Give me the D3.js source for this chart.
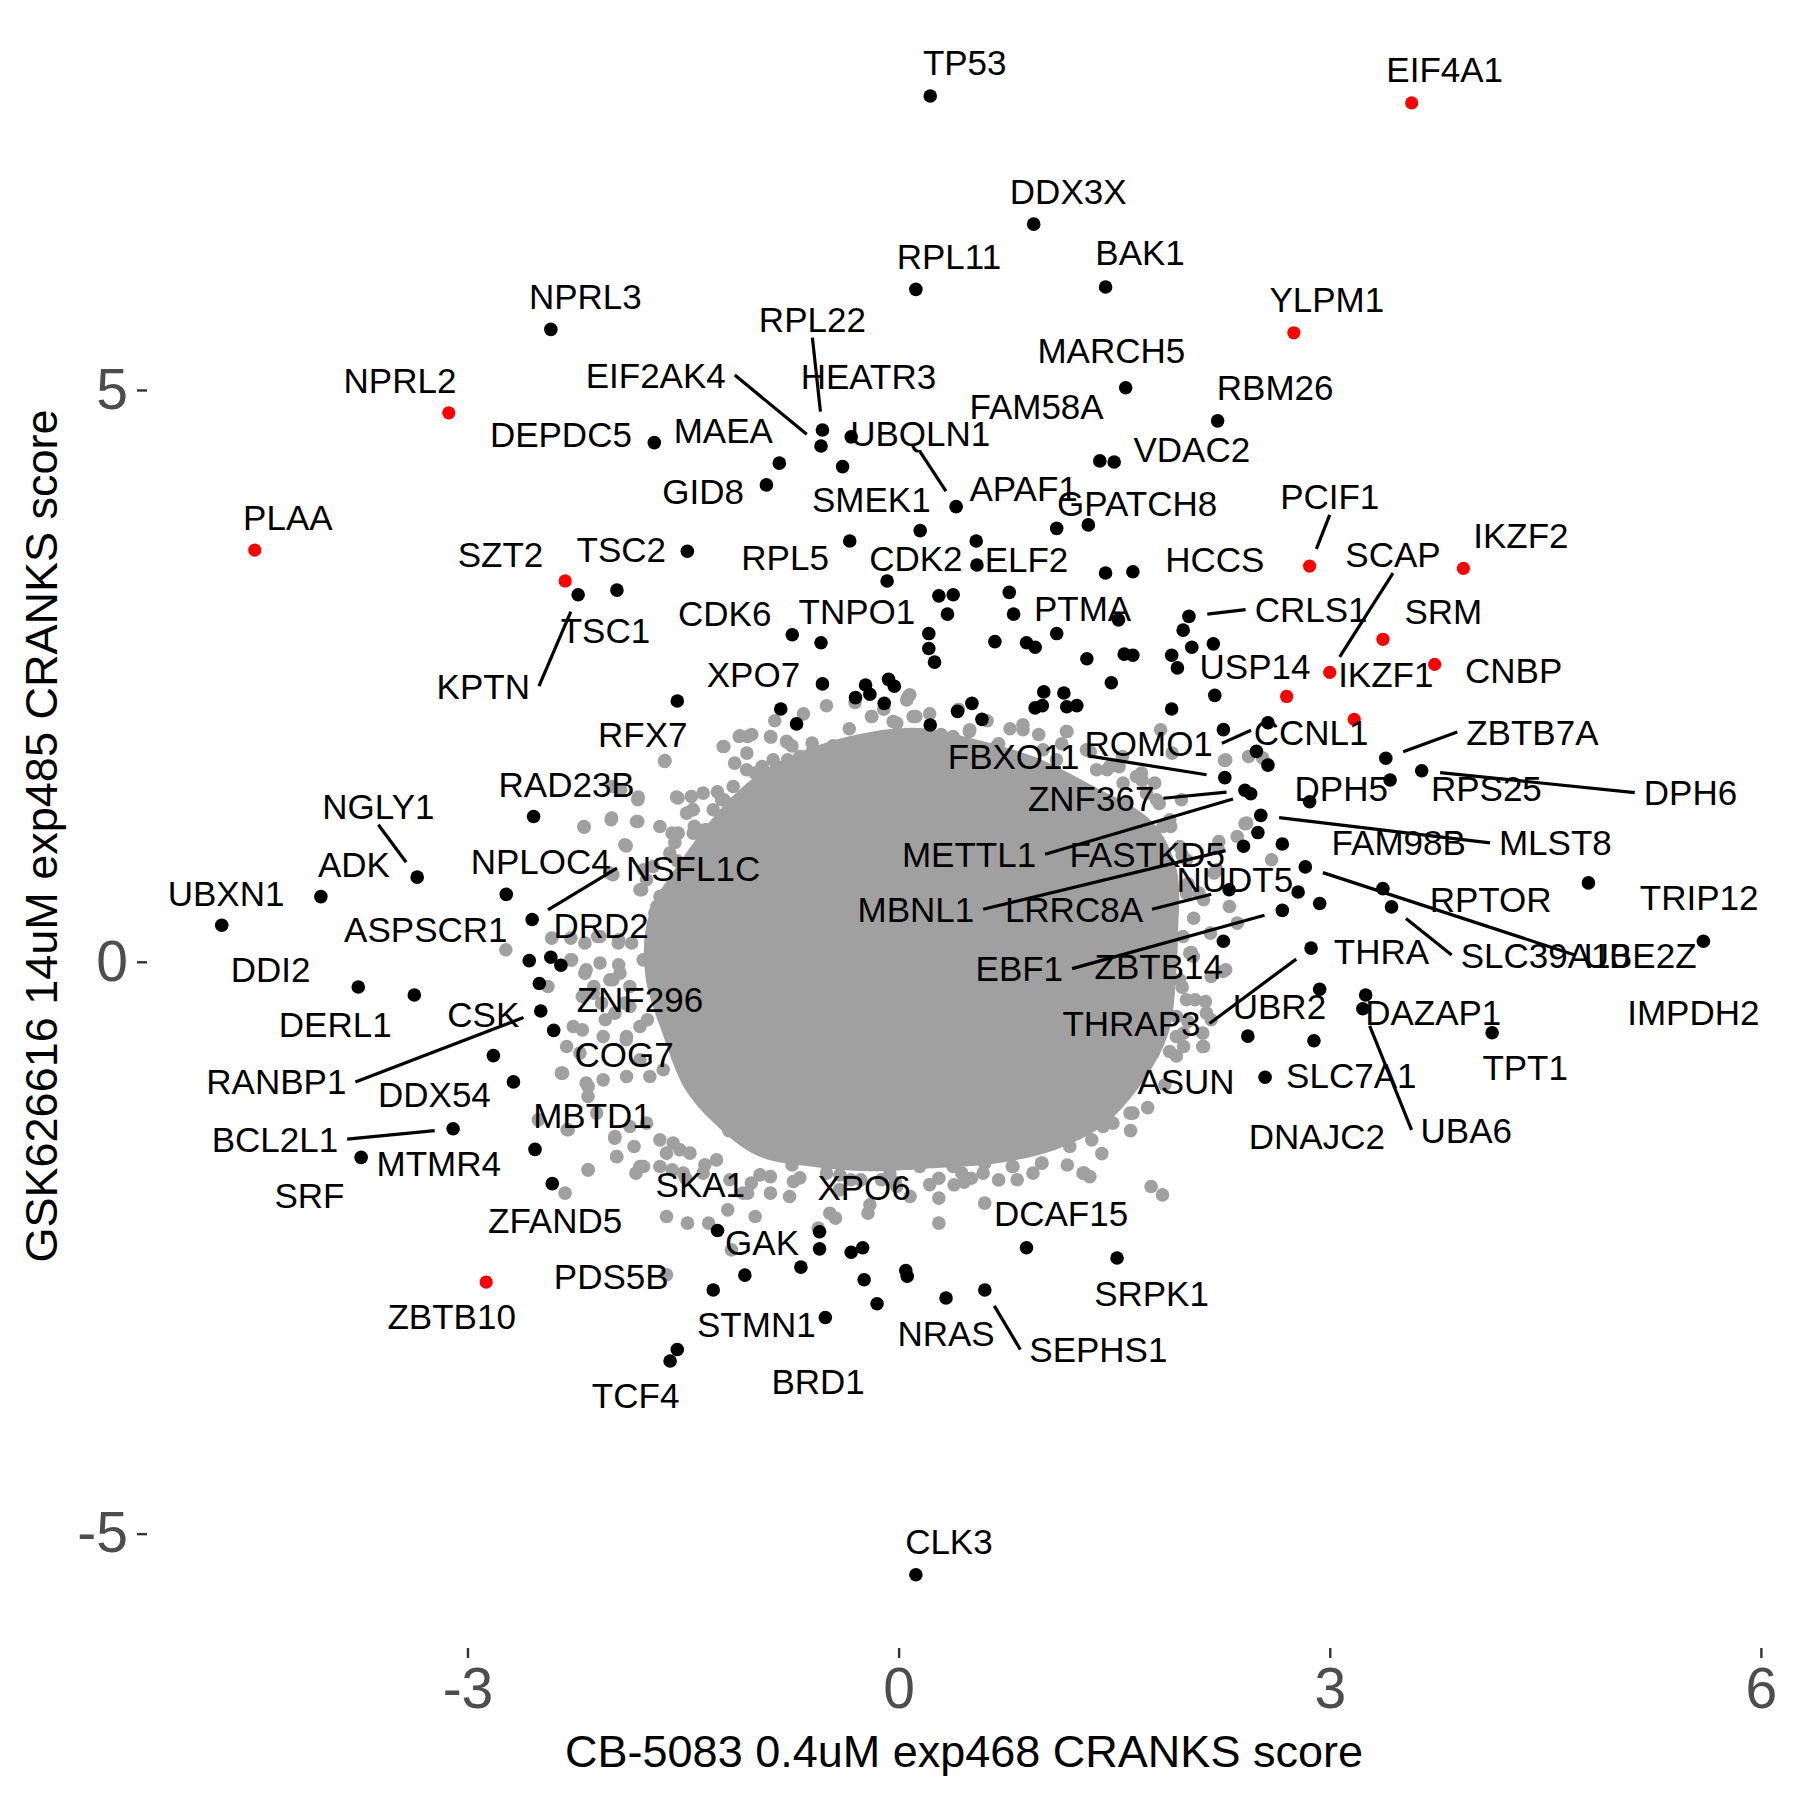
<!DOCTYPE html>
<html><head><meta charset="utf-8">
<script src="https://cdn.jsdelivr.net/npm/d3@7"></script>
<style>body{margin:0;background:#fff}svg{display:block}</style>
</head><body>
<svg id="chart" width="1800" height="1800"></svg>
<script>
// ---------- DATA ----------
const genes = [
 "TP53","EIF4A1","DDX3X","RPL11","BAK1","NPRL3","YLPM1","RPL22","MARCH5","NPRL2",
 "EIF2AK4","HEATR3","RBM26","FAM58A","DEPDC5","MAEA","UBQLN1","VDAC2","GID8","SMEK1",
 "APAF1","GPATCH8","PCIF1","IKZF2","PLAA","SZT2","TSC2","RPL5","CDK2","ELF2",
 "HCCS","TSC1","KPTN","CDK6","TNPO1","PTMA","CRLS1","SCAP","SRM","USP14",
 "IKZF1","CNBP","XPO7","RFX7","CCNL1","ROMO1","FBXO11","ZNF367","METTL1","FASTKD5",
 "MBNL1","NUDT5","LRRC8A","EBF1","ZBTB14","THRAP3","UBR2","ASUN","DNAJC2","SLC7A1",
 "ZBTB7A","DPH5","RPS25","DPH6","FAM98B","MLST8","TRIP12","RPTOR","SLC39A10","UBE2Z",
 "IMPDH2","THRA","DAZAP1","UBA6","TPT1","CLK3","SRPK1","DCAF15","SEPHS1","NRAS",
 "BRD1","XPO6","GAK","STMN1","SKA1","PDS5B","TCF4","ZBTB10","ZFAND5","SRF",
 "MTMR4","BCL2L1","DDX54","MBTD1","RANBP1","COG7","CSK","ZNF296","DRD2","DERL1",
 "DDI2","ASPSCR1","NSFL1C","NPLOC4","UBXN1","ADK","NGLY1","RAD23B"];
// CB-5083 0.4uM exp468 CRANKS score
const cb5083Score = [
 0.22,3.57,0.94,0.12,1.44,-2.42,2.75,-0.53,1.58,-3.13,
 -0.54,-0.33,2.22,1.40,-1.70,-0.83,0.40,1.50,-0.92,-0.39,
 0.54,1.32,2.86,3.93,-4.48,-2.32,-1.47,-0.34,-0.08,0.545,
 1.63,-1.96,-2.23,-0.74,-0.54,1.10,2.02,3.00,3.37,2.70,
 3.17,3.73,-0.53,-1.54,2.26,2.57,2.27,2.41,2.45,2.50,
 2.40,2.78,2.30,2.67,2.26,2.87,2.93,2.43,2.89,2.55,
 3.39,2.86,3.42,3.64,2.67,2.52,4.80,3.37,3.43,2.83,
 5.60,2.93,3.25,3.23,4.13,0.12,1.52,0.89,0.60,0.33,
 -0.51,-0.55,-0.68,-1.07,-1.26,-1.29,-1.59,-2.87,-2.41,-3.74,
 -2.53,-3.10,-2.68,-2.82,-2.49,-2.40,-2.50,-2.35,-2.42,-3.37,
 -3.76,-2.57,-2.55,-2.73,-4.71,-4.02,-3.35,-2.54];
// GSK626616 14uM exp485 CRANKS score
const gskScore = [
 7.57,7.51,6.45,5.88,5.90,5.53,5.50,4.65,5.02,4.80,
 4.51,4.59,4.73,4.38,4.54,4.36,3.98,4.37,4.17,4.33,
 3.68,3.82,3.46,3.44,3.60,3.33,3.59,3.68,3.33,3.47,
 3.41,3.25,3.21,2.86,2.79,2.87,3.02,2.53,2.82,2.32,
 2.12,2.60,2.43,2.28,2.03,2.09,1.61,1.50,1.47,1.13,
 1.01,0.61,0.63,0.45,0.18,0.12,-0.24,-0.65,-0.69,-1.01,
 1.78,1.40,1.59,1.67,1.03,1.28,0.69,0.64,0.48,0.83,
 0.18,0.51,-0.29,-0.41,-0.62,-5.36,-2.59,-2.50,-2.87,-2.94,
 -3.11,-2.36,-2.67,-2.74,-2.35,-2.87,-3.49,-2.80,-1.94,-1.71,
 -1.64,-1.46,-1.05,-0.82,-0.43,-0.60,-0.19,-0.03,0.04,-0.29,
 -0.22,0.01,0.37,0.59,0.32,0.57,0.74,1.27];
const highlightedGenes = ["EIF4A1","YLPM1","NPRL2","PCIF1","IKZF2","PLAA","SZT2",
 "SCAP","SRM","USP14","IKZF1","CNBP","ZBTB10"];

// other hits whose labels were not placed
const otherHitX = [1.10,0.15,1.44,0.28,0.38,0.34,0.77,0.80,1.53,1.98,2.04,2.19,0.21,0.21,0.25,
 0.67,0.89,0.95,1.31,1.57,1.63,1.90,1.94,2.20,1.48,1.90,-0.30,-0.23,-0.20,-0.10,-0.07,-0.03,
 -0.82,-0.71,0.22,0.41,0.51,0.58,1.01,0.95,1.00,1.15,1.24,1.17,2.49,2.57,
 -0.55,-0.33,-0.25,-0.24,-0.15,0.05,0.06,-1.54];
const otherHitY = [3.79,3.77,3.40,3.20,3.21,3.04,3.23,3.04,2.99,2.90,2.75,2.78,2.87,2.74,2.62,
 2.80,2.79,2.75,2.65,2.69,2.68,2.68,2.57,2.33,2.44,2.21,2.31,2.42,2.34,2.26,2.47,2.41,
 2.21,2.08,2.07,2.19,2.26,2.12,2.36,2.22,2.24,2.35,2.24,2.23,1.84,1.72,
 -2.51,-2.54,-2.50,-2.78,-2.99,-2.70,-2.75,-3.39];

// non-hit genes: outline of the dense cloud and the scattered genes around it
const cloudOutline = [[-1.461,0.883],[-1.141,1.385],[-0.902,1.636],[-0.662,1.787],[-0.263,1.937],
 [0.136,1.988],[0.536,1.887],[0.933,1.737],[1.334,1.486],[1.733,1.184],[1.893,0.783],[1.900,0.280],
 [1.886,-0.122],[1.838,-0.595],[1.678,-0.988],[1.400,-1.382],[1.052,-1.600],[0.634,-1.714],
 [0.217,-1.749],[-0.200,-1.775],[-0.618,-1.732],[-0.965,-1.644],[-1.244,-1.382],[-1.452,-1.076],
 [-1.592,-0.638],[-1.717,-0.122],[-1.696,0.385]];
const backgroundScores = [
 [-0.189,2.145],[-1.105,1.976],[-1.221,1.883],[-0.889,1.965],[-0.773,1.918],[-0.602,1.913],[-0.456,1.889],
 [-1.626,1.760],[-0.950,1.708],[-0.687,1.795],[-0.634,1.738],[-0.490,1.760],[-0.965,1.620],[-0.849,1.533],
 [-0.734,1.577],[-0.652,1.504],[-1.545,1.440],[-1.434,1.329],[-1.232,1.417],[-1.151,1.382],[-1.058,1.475],
 [-0.988,1.388],[-1.812,1.440],[-1.823,1.227],[-1.997,1.257],[-2.190,1.183],[-1.905,1.023],[-1.534,1.125],
 [-1.336,1.154],[-1.267,1.096],[-1.557,1.043],[-2.009,0.776],[-1.800,0.630],[-1.661,0.571],[-1.696,0.426],
 [-1.951,0.164],[-1.858,0.164],[-2.078,0.221],[-2.183,0.164],[-2.275,0.017],[-2.078,-0.011],[-2.183,-0.099],
 [-2.009,-0.157],[-1.939,-0.099],[-1.870,-0.216],[-1.777,0.017],[-2.125,-0.274],[-2.067,-0.361],[-1.974,-0.449],
 [-1.870,-0.391],[-2.264,-0.566],[-2.310,-0.741],[-2.338,-0.973],[-2.218,-0.798],[-2.056,-0.653],[-1.893,-0.653],
 [-1.800,-0.566],[-2.160,-1.091],[-2.056,-1.032],[-1.893,-1.003],[-1.800,-0.857],[-1.731,-1.003],[-1.638,-0.944],
 [-2.299,-1.469],[-2.101,-1.323],[-1.974,-1.528],[-1.870,-1.440],[-1.754,-1.411],[-1.661,-1.557],[-1.569,-1.585],
 [-1.962,-1.703],[-2.160,-1.819],[-1.800,-1.790],[-1.661,-1.790],[-1.452,-1.673],[-1.499,-1.848],[-1.360,-1.848],
 [-1.267,-1.732],
 [0.078,2.335],[-0.038,2.101],[0.101,2.145],[0.495,2.029],[0.866,2.029],[1.168,2.014],[1.307,1.854],
 [1.469,1.708],[1.655,1.620],[1.782,1.563],[1.585,1.388],[1.794,1.417],[1.968,1.417],[1.840,1.183],
 [1.956,1.008],[1.875,0.833],[2.003,0.601],[1.886,0.426],[1.979,0.221],[1.840,0.134],[1.956,-0.157],
 [1.864,-0.245],[2.003,-0.332],[1.817,-0.566],[1.933,-0.653],[1.886,-0.784],[1.608,-0.682],[1.562,-0.857],
 [1.678,-0.944],[1.423,-1.003],[1.562,-1.119],[1.307,-1.032],[1.191,-1.148],[1.423,-1.236],[1.631,-1.323],
 [1.283,-1.294],[1.098,-1.411],[1.237,-1.498],[0.959,-1.498],[1.029,-1.585],[0.820,-1.615],[0.681,-1.673],
 [0.994,-1.760],[0.796,-1.790],[0.495,-1.703],[0.379,-1.790],[0.217,-1.732],[0.078,-1.760],[-0.084,-1.673],
 [1.283,-1.848],
 [1.610,-0.726],[1.983,-0.741],[2.116,-0.741],[1.796,-0.726],[1.397,-0.798],[1.530,-0.857],[1.557,-0.944],
 [1.637,-0.973],[1.450,-0.959],[1.530,-1.119],[1.291,-1.119],[1.397,-1.309],[1.610,-1.323],[1.491,-1.411],
 [1.344,-1.425],[1.237,-1.294],[1.078,-1.440],[1.158,-1.542],[1.344,-1.557],[1.078,-1.585],[0.972,-1.484],
 [0.998,-1.760],[1.291,-1.848],[1.331,-1.878],[1.757,-1.965],[1.836,-2.038],[0.791,-1.790],[0.825,-1.906],
 [0.599,-1.760],[0.506,-1.892],[0.386,-1.950],[0.280,-1.892],[0.280,-2.066],[0.599,-2.110],[0.280,-2.285],
 [0.147,-1.790],[0.080,-2.052],[-0.200,-2.125],[-0.213,-2.198],[-0.439,-2.241],[-0.479,-2.198],[-0.559,-2.329],
 [-0.759,-2.052],[-0.892,-2.023],[-0.998,-2.227],[-1.051,-2.023],[-0.732,-1.921],[-0.892,-1.878],[-1.025,-1.935],
 [-0.412,-1.994],[-0.332,-1.906],[-0.120,-1.906],[-0.013,-1.965],[0.440,-1.848],
 [-2.347,-0.973],[-2.174,-1.061],[-2.161,-1.178],[-2.507,-1.382],[-2.307,-1.469],[-1.975,-1.542],[-1.841,-1.615],
 [-1.962,-1.703],[-2.161,-1.819],[-2.321,-2.023],[-1.775,-1.790],[-1.828,-1.848],[-1.615,-1.673],[-1.576,-1.819],
 [-1.482,-1.892],[-1.615,-2.227],[-1.469,-2.285],[-1.189,-2.169],[-1.163,-2.519],[-1.615,-2.737],[-1.322,-2.285],
 [-1.083,-2.023],
 [-1.109,1.970],[-1.216,1.883],[-1.056,1.825],[-1.628,1.752],[-1.535,1.432],[-1.442,1.446],[-1.429,1.329],
 [-1.815,1.417],[-1.988,1.533],[-1.934,1.504],[-2.001,1.242],[-1.815,1.227],[-2.188,1.178],[-1.895,1.014],
 [-1.576,1.125],[-1.216,1.417],[-1.349,1.154],[-1.775,0.805],[-1.788,0.630],[-1.988,0.761],[-1.682,0.484],
 [-2.414,0.207],[-2.281,0.207],[-2.094,0.221],[-1.948,0.192],[-2.733,0.105],[-2.281,0.017],[-2.174,-0.070],
 [-1.948,-0.026],[-2.440,-0.216],[-2.201,-0.303],[-2.121,-0.216],[-1.988,-0.157],[-1.908,-0.361],[-2.041,-0.507],
 [-1.748,-0.507],[-1.895,-0.682],[-2.201,-0.595],
 [0.067,2.320],[-0.186,2.145],[0.120,2.145],[-0.013,2.087],[-0.892,1.970],[-1.051,1.970],[-0.780,1.927],
 [-0.599,1.839],[-0.439,1.883],[-0.332,1.913],[0.492,2.014],[0.865,2.073],[1.171,2.014],[1.823,2.029],
 [2.276,1.766],[2.435,1.795],[1.903,1.825],[1.557,1.795],[1.451,1.679],[1.690,1.650],[2.422,1.213],
 [2.356,1.096],[2.222,0.994],[2.595,0.892],[2.196,0.776],[2.090,0.601],[2.302,0.484],[2.356,0.338],
 [2.170,0.251],[2.050,0.046],[2.276,-0.070],[2.063,-0.332],[2.142,-0.449],[1.983,-0.624],[2.116,-0.624],
 [1.810,-0.507],[2.268,1.760],[2.534,1.781],[2.410,1.207],[2.228,1.052],[2.215,0.805],[2.122,0.542],
 [2.255,-0.085],[2.175,-0.129],[2.135,-0.347],[2.175,-0.507],[2.122,-0.741],[-0.772,1.766],[-0.998,1.650],
 [-0.492,1.650],[-0.679,1.592],[-0.360,1.475],
 [-0.386,1.766],[-0.270,1.883],[-0.339,1.592],[-0.223,1.679],[-0.873,1.766],[-1.058,1.679],[-1.151,1.533],
 [-1.360,1.475],[-1.290,1.329],[-1.475,1.300],[-1.661,1.183],[-1.429,1.125],[-1.592,0.951],[-1.708,0.833],
 [-1.754,0.717],[-0.108,1.970],[0.379,1.970],[0.681,1.883],[1.005,1.854],[1.098,1.766],[1.377,1.679],
 [1.562,1.563],[1.724,1.475],[1.887,1.242],[2.003,0.892],[2.026,0.076],[1.933,-0.478],[1.770,-0.798],
 [1.423,-1.440],[1.191,-1.615],[0.588,-1.848],[-0.061,-1.848],[-1.348,-1.775],[-1.174,-1.906],[-0.965,-1.863],
 [-0.687,-1.889],[-0.409,-1.863],[-1.522,-1.644],
 [-1.022,1.988],[-0.862,2.108],[-0.662,2.168],[-0.502,2.239],[-0.303,2.268],[-0.103,2.208],[0.056,2.289],
 [0.216,2.168],[0.416,2.208],[0.616,2.108],[0.775,2.038],[0.975,1.988],[1.135,1.907],[1.334,1.837],
 [1.534,1.706],[1.694,1.586],[-0.742,1.887],[-0.343,2.038],[0.296,1.988],[0.696,1.907],
 [1.813,1.385],[1.893,1.184],[1.973,0.933],[2.013,0.682],[2.053,0.381],[2.037,0.080],[1.973,-0.221],
 [2.013,-0.522],[1.933,-0.824],[1.853,-1.075],[1.733,-1.275],[1.614,-1.476],
 [1.414,-1.677],[1.174,-1.777],[0.935,-1.848],[0.696,-1.907],[0.456,-1.927],[0.216,-1.948],[-0.024,-1.927],
 [-0.263,-1.907],[-0.502,-1.848],[-0.742,-1.777],[-0.981,-1.627],[-1.181,-1.476],
 [-1.461,-0.924],[-1.580,-0.623],[-1.660,-0.322],[-1.716,-0.020],[-1.700,0.281],[-1.637,0.582],[-1.541,0.883],
 [-1.421,1.184],[-1.261,1.486],[-1.141,1.737]];

// tick values and axis titles
const xTicks = [-3, 0, 3, 6];
const yTicks = [-5, 0, 5];
const xTitle = "CB-5083 0.4uM exp468 CRANKS score";
const yTitle = "GSK626616 14uM exp485 CRANKS score";

// ---------- LABEL LAYOUT (repelled label centres, in score units) ----------
const labelX = [
 0.46,3.80,1.18,0.35,1.68,-2.18,2.98,-0.60,1.48,-3.47,
 -1.69,-0.21,2.62,0.96,-2.35,-1.22,0.15,2.04,-1.36,-0.19,
 0.87,1.66,3.00,4.33,-4.25,-2.77,-1.93,-0.79,0.12,0.89,
 2.20,-2.04,-2.89,-1.21,-0.29,1.28,2.87,3.44,3.79,2.48,
 3.39,4.28,-1.01,-1.78,2.87,1.74,0.80,1.34,0.49,1.73,
 0.12,2.34,1.22,0.84,1.81,1.62,2.65,2.00,2.91,3.15,
 4.41,3.08,4.09,5.51,3.48,4.57,5.57,4.12,4.50,5.16,
 5.53,3.36,3.72,3.95,4.36,0.35,1.76,1.13,1.39,0.33,
 -0.56,-0.24,-0.95,-0.99,-1.38,-2.00,-1.83,-3.11,-2.39,-4.10,
 -3.20,-4.34,-3.23,-2.13,-4.33,-1.91,-2.89,-1.80,-2.07,-3.92,
 -4.37,-3.29,-1.43,-2.49,-4.68,-3.79,-3.62,-2.31];
const labelY = [
 7.86,7.80,6.74,6.17,6.20,5.82,5.79,5.62,5.35,5.08,
 5.13,5.12,5.02,4.86,4.61,4.65,4.62,4.48,4.11,4.04,
 4.14,4.01,4.07,3.73,3.89,3.56,3.61,3.54,3.53,3.52,
 3.52,2.90,2.41,3.05,3.06,3.09,3.08,3.56,3.06,2.58,
 2.51,2.55,2.51,1.99,2.01,1.91,1.80,1.43,0.94,0.94,
 0.46,0.72,0.46,-0.06,-0.04,-0.54,-0.39,-1.05,-1.53,-0.99,
 2.01,1.52,1.52,1.48,1.04,1.04,0.56,0.55,0.06,0.06,
 -0.44,0.09,-0.44,-1.47,-0.92,-5.07,-2.90,-2.20,-3.39,-3.25,
 -3.67,-1.97,-2.45,-3.17,-1.95,-2.75,-3.79,-3.10,-2.26,-2.04,
 -1.76,-1.55,-1.16,-1.34,-1.05,-0.81,-0.46,-0.33,0.32,-0.55,
 -0.07,0.28,0.82,0.88,0.60,0.85,1.36,1.55];
const segmentGenes = ["RPL22","EIF2AK4","UBQLN1","PCIF1","KPTN","NGLY1","NSFL1C","RANBP1",
 "BCL2L1","CRLS1","SCAP","ROMO1","FBXO11","ZNF367","METTL1","MBNL1","LRRC8A","EBF1","THRAP3",
 "ZBTB7A","DPH6","MLST8","UBE2Z","SLC39A10","UBA6","SEPHS1"];

// ---------- DRAW ----------
const FONT = "'Liberation Sans', Arial, Helvetica, sans-serif";
const GREY = "#a0a0a0";
const svg = d3.select("#chart");
svg.append("rect").attr("width",1800).attr("height",1800).attr("fill","#fff");

const x = d3.scaleLinear().domain([-5.23, 6.14]).range([147, 1781]);
const y = d3.scaleLinear().domain([-6.0, 8.2]).range([1648, 24]);

// axes
const gx = svg.append("g").attr("transform", `translate(0,${y(-6.0)})`)
  .call(d3.axisBottom(x).tickValues(xTicks).tickFormat(d => String(d)).tickSize(10).tickPadding(10));
const gy = svg.append("g").attr("transform", `translate(${x(-5.23)},0)`)
  .call(d3.axisLeft(y).tickValues(yTicks).tickFormat(d => String(d)).tickSize(10).tickPadding(9));
[gx, gy].forEach(g => {
  g.select(".domain").remove();
  g.selectAll(".tick line").attr("stroke", "#333333").attr("stroke-width", 2.4);
  g.selectAll(".tick text").attr("fill", "#4D4D4D").attr("font-size", 57).attr("font-family", FONT);
});

svg.append("text").attr("x", 964).attr("y", 1767).attr("text-anchor", "middle")
  .attr("font-family", FONT).attr("font-size", 45).attr("fill", "#000").text(xTitle);
svg.append("text").attr("transform", "translate(57,836) rotate(-90)").attr("text-anchor", "middle")
  .attr("font-family", FONT).attr("font-size", 45).attr("fill", "#000").text(yTitle);

// background cloud
const plot = svg.append("g");
plot.append("path").datum(cloudOutline)
  .attr("d", d3.line().x(d => x(d[0])).y(d => y(d[1])).curve(d3.curveCatmullRomClosed))
  .attr("fill", GREY).attr("stroke", GREY).attr("stroke-width", 13).attr("stroke-linejoin", "round");
plot.selectAll("circle.bg").data(backgroundScores).join("circle").attr("class", "bg")
  .attr("cx", d => x(d[0])).attr("cy", d => y(d[1])).attr("r", 6.8).attr("fill", GREY);

// other hits
plot.selectAll("circle.oh").data(otherHitX.map((v, i) => [v, otherHitY[i]])).join("circle").attr("class", "oh")
  .attr("cx", d => x(d[0])).attr("cy", d => y(d[1])).attr("r", 6.8).attr("fill", "#000");

// labelled hits
const hits = genes.map((g, i) => ({name: g, x: cb5083Score[i], y: gskScore[i],
  lx: labelX[i], ly: labelY[i], red: highlightedGenes.includes(g), seg: segmentGenes.includes(g)}));
plot.selectAll("circle.hit").data(hits.filter(d => !d.red)).join("circle").attr("class", "hit")
  .attr("cx", d => x(d.x)).attr("cy", d => y(d.y)).attr("r", 6.8).attr("fill", "#000");
plot.selectAll("circle.red").data(hits.filter(d => d.red)).join("circle").attr("class", "red")
  .attr("cx", d => x(d.x)).attr("cy", d => y(d.y)).attr("r", 6.6).attr("fill", "#FF0000");

// labels
const segG = svg.append("g");
const labG = svg.append("g");
const texts = labG.selectAll("text").data(hits).join("text")
  .attr("x", d => x(d.lx)).attr("y", d => y(d.ly)).attr("dy", "0.36em")
  .attr("text-anchor", "middle").attr("font-family", FONT).attr("font-size", 35).attr("fill", "#000")
  .text(d => d.name);

// segments: from nearest label edge midpoint towards the point, stopping short of it
texts.each(function(d) {
  if (!d.seg) return;
  const w = this.getComputedTextLength();
  const cx = x(d.lx), cy = y(d.ly), px = x(d.x), py = y(d.y);
  const hw = w / 2 + 9, hh = 18.5;
  const cands = [[cx - hw, cy], [cx + hw, cy], [cx, cy - hh], [cx, cy + hh]];
  let best = cands[0], bd = Infinity;
  cands.forEach(c => { const dd = Math.hypot(px - c[0], py - c[1]); if (dd < bd) { bd = dd; best = c; } });
  const gap = 18.5;
  if (bd <= gap) return;
  const ex = px - (px - best[0]) * gap / bd, ey = py - (py - best[1]) * gap / bd;
  segG.append("line").attr("x1", best[0]).attr("y1", best[1]).attr("x2", ex).attr("y2", ey)
    .attr("stroke", "#000").attr("stroke-width", 3.2);
});
</script>
</body></html>
